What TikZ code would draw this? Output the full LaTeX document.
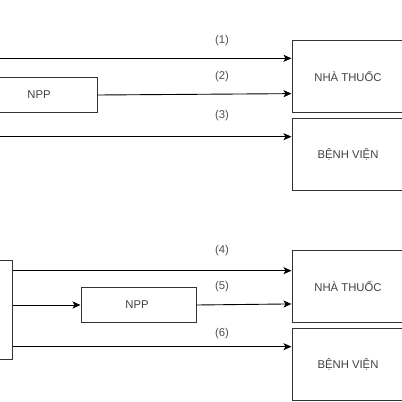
\documentclass[tikz,border=0pt]{standalone}
\usepackage{fontspec}
\setmainfont{Liberation Sans}
\usetikzlibrary{arrows.meta,calc}
\definecolor{txt}{HTML}{404040}
\definecolor{lbl}{HTML}{505050}
\tikzset{
  box/.style={draw=black!80, line width=1pt, inner sep=0pt, text=txt, font=\fontsize{11.3}{13}\selectfont},
  conn/.style={draw=black, line width=0.9pt, -{Stealth[length=8pt,width=7pt,inset=2pt]}},
  lab/.style={inner sep=0pt, text=lbl, font=\fontsize{11.3}{13}\selectfont}
}
\begin{document}
\begin{tikzpicture}[x=1pt,y=-1pt]
\useasboundingbox (0,0) rectangle (402,402);
% top section
\node[box, minimum width=112pt, minimum height=71.6pt] (nt1) at (348,76.5) {NHÀ THUỐC};
\node[box, minimum width=112pt, minimum height=72.4pt] (bv1) at (348,154.5) {BỆNH VIỆN};
\node[box, minimum width=116pt, minimum height=34.6pt] (npp1) at (39,95) {NPP};
\coordinate (s1) at (0,58.3);
\coordinate (s3) at (0,136.7);
\draw[conn] (s1) -- (s1 -| nt1.west);
\draw[conn] (npp1.east) -- ($(nt1.north west)!0.736!(nt1.south west)$);
\draw[conn] (s3) -- (s3 -| bv1.west);
\node[lab] (l1) at (222,41) {(1)};
\node[lab] (l2) at (222,76.7) {(2)};
\node[lab] (l3) at (222,116) {(3)};
% bottom section
\node[box, minimum width=112pt, minimum height=71.6pt] (nt2) at (348,286.5) {NHÀ THUỐC};
\node[box, minimum width=112pt, minimum height=72.4pt] (bv2) at (348,364.5) {BỆNH VIỆN};
\node[box, minimum width=115pt, minimum height=34.6pt] (npp2) at (138.5,305) {};
\node[text=txt, font=\fontsize{11.3}{13}\selectfont, inner sep=0pt] (npp2t) at (137,305) {NPP};
\node[box, minimum width=60pt, minimum height=99.3pt] (src) at (-17.7,310.3) {};
\draw[conn] (src.east |- 0,270.7) -- (nt2.west |- 0,270.7);
\draw[conn] (src.east |- npp2) -- (npp2.west);
\draw[conn] (npp2.east) -- ($(nt2.north west)!0.74!(nt2.south west)$);
\draw[conn] (src.east |- 0,346.7) -- (bv2.west |- 0,346.7);
\node[lab] (l4) at (222,250.7) {(4)};
\node[lab] (l5) at (222,286.7) {(5)};
\node[lab] (l6) at (222,333.3) {(6)};
\end{tikzpicture}
\end{document}
